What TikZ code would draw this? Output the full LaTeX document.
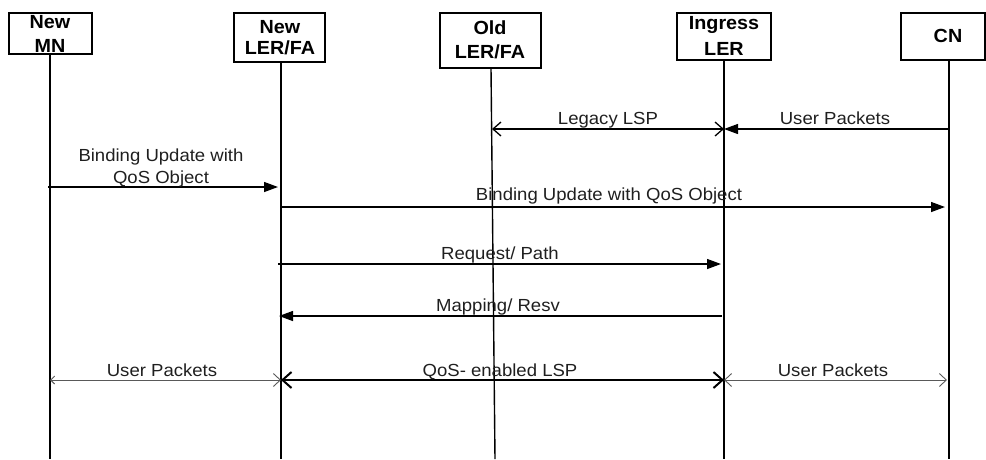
\documentclass[tikz,border=0pt]{standalone}
\usepackage{fontspec}
\setmainfont{Liberation Sans}[FakeStretch=1.06]
\newfontfamily\hdrfont{Liberation Sans}[FakeStretch=1.04]
\usetikzlibrary{arrows.meta}
\begin{document}
\begin{tikzpicture}[x=1pt,y=-1pt,
  box/.style={draw=black,line width=1.4pt,inner sep=0pt,fill=white},
  hdr/.style={inner sep=0pt,anchor=base,font=\hdrfont\fontsize{19}{21}\selectfont\bfseries},
  lbl/.style={inner sep=0pt,anchor=base,text=black!88,font=\fontsize{17.5}{21}\selectfont},
  life/.style={draw=black,line width=1.4pt},
  msg/.style={draw=black,line width=1.3pt},
  thin/.style={draw=black!65,line width=0.9pt},
  fat/.style={draw=black,line width=2pt},
  filled/.style={-{Triangle[length=14pt,width=10pt]}},
  stick/.style={{Straight Barb[length=8pt,width=14pt]}-{Straight Barb[length=8pt,width=14pt]}}
]
\useasboundingbox (0,0) rectangle (986,459);
% boxes
\node[box,minimum width=83pt,minimum height=41pt] (mn) at (50.5,33.5) {};
\node[box,minimum width=91pt,minimum height=49pt] (nler) at (279.5,37.5) {};
\node[box,minimum width=101pt,minimum height=55pt] (oler) at (490.5,40.5) {};
\node[box,minimum width=94pt,minimum height=47pt] (ing) at (724,36.5) {};
\node[box,minimum width=84pt,minimum height=47pt] (cn) at (943,36.5) {};
% box labels
\node[hdr] (mn1) at (50,28) {New};
\node[hdr] (mn2) at (50,52) {MN};
\node[hdr] (nl1) at (280,33) {New};
\node[hdr] (nl2) at (280,54) {LER/FA};
\node[hdr] (ol1) at (490,34) {Old};
\node[hdr] (ol2) at (490,58) {LER/FA};
\node[hdr] (ig1) at (724,29) {Ingress};
\node[hdr] (ig2) at (724,55) {LER};
\node[hdr] (cn1) at (948,42) {CN};
% lifelines
\coordinate (mnb) at (50,459);
\coordinate (nlb) at (281,459);
\coordinate (olt) at (491,68);
\coordinate (olb) at (495,459);
\coordinate (igb) at (724,459);
\coordinate (cnb) at (949,459);
\draw[life] (mnb |- mn.south) -- (mnb);
\draw[life] (nlb |- nler.south) -- (nlb);
\draw[life] (olt) -- (olb);
\draw[life] (igb |- ing.south) -- (igb);
\draw[life] (cnb |- cn.south) -- (cnb);
% messages
\coordinate (leg) at (492,129);
\draw[msg,stick] (leg) -- (igb |- 0,129);
\node[lbl] (t1) at (608,124) {Legacy LSP};
\draw[msg,filled] (cnb |- 0,129) -- (igb |- 0,129);
\node[lbl] (t2) at (835,124) {User Packets};
\draw[msg,filled,shorten >=3pt] ([xshift=-2pt]mnb |- 0,187) -- (nlb |- 0,187);
\node[lbl] (t3a) at (161,161) {Binding Update with};
\node[lbl] (t3b) at (161,183) {QoS Object};
\draw[msg,filled,shorten >=4pt] (nlb |- 0,207) -- (cnb |- 0,207);
\node[lbl] (t4) at (609,200) {Binding Update with QoS Object};
\draw[msg,filled,shorten >=3pt] ([xshift=-3pt]nlb |- 0,264) -- (igb |- 0,264);
\node[lbl] (t5) at (500,259) {Request/ Path};
\draw[msg,filled] ([xshift=-2pt]igb |- 0,316) -- ([xshift=-2pt]nlb |- 0,316);
\node[lbl] (t6) at (498,311) {Mapping/ Resv};
% bottom row
\draw[thin,{Straight Barb[length=4pt,width=8pt]}-{Straight Barb[length=7pt,width=13pt]}] (mnb |- 0,380) -- (nlb |- 0,380);
\node[lbl] (t7) at (162,376) {User Packets};
\draw[fat,{Straight Barb[length=9pt,width=16pt]}-{Straight Barb[length=9pt,width=16pt]}] (nlb |- 0,380) -- (igb |- 0,380);
\node[lbl] (t8) at (500,376) {QoS- enabled LSP};
\draw[thin,{Straight Barb[length=7pt,width=13pt]}-{Straight Barb[length=7pt,width=13pt]}] (igb |- 0,380) -- ([xshift=-2pt]cnb |- 0,380);
\node[lbl] (t9) at (833,376) {User Packets};
\end{tikzpicture}
\end{document}
